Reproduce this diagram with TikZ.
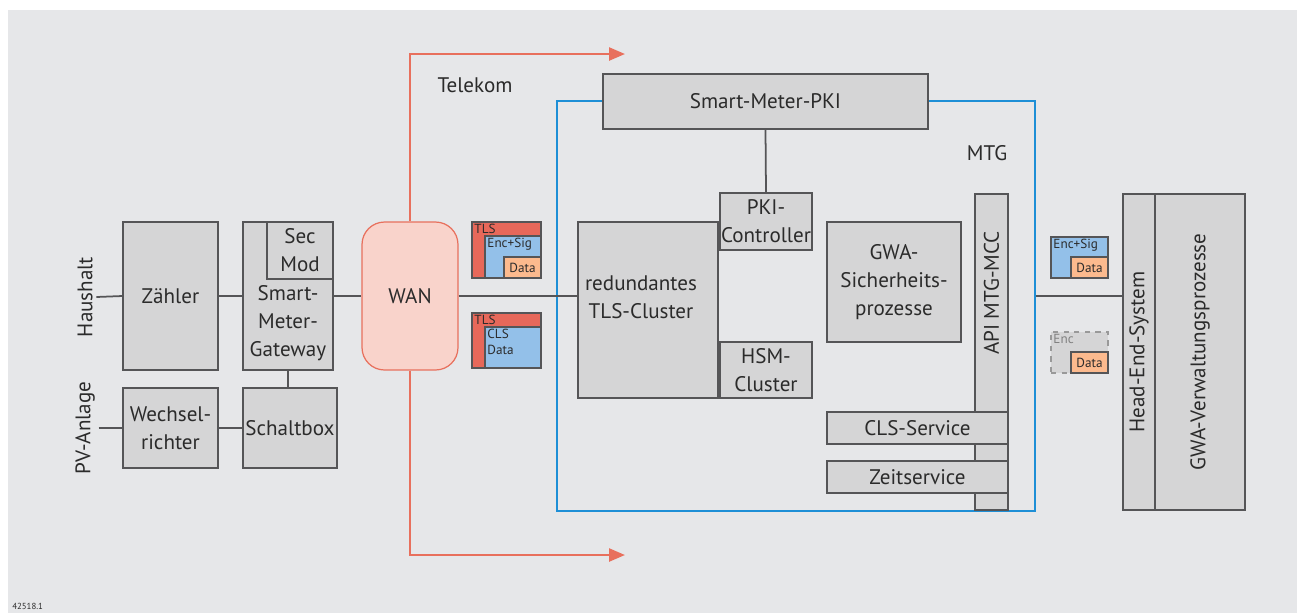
\documentclass[tikz,border=0pt]{standalone}
\usepackage{fontspec}
\setmainfont{PT Sans}
\usetikzlibrary{arrows.meta, positioning}

\definecolor{bggray}{HTML}{E6E7E9}
\definecolor{boxgray}{HTML}{D5D5D6}
\definecolor{linegray}{HTML}{555557}
\definecolor{textgray}{HTML}{2B2B2B}
\definecolor{mtgblue}{HTML}{1E8FD6}
\definecolor{telred}{HTML}{E8705D}
\definecolor{wanfill}{HTML}{F9D3CB}
\definecolor{pktred}{HTML}{E7685A}
\definecolor{pktblue}{HTML}{93C0E9}
\definecolor{pktorange}{HTML}{FCBA8E}

\begin{document}
\begin{tikzpicture}[
    x=0.02cm, y=-0.02cm,
    font=\fontsize{12}{16}\selectfont,
    text=textgray,
    box/.style={draw=linegray, fill=boxgray, line width=0.7pt, rectangle, align=center, inner sep=0pt},
    vbox/.style={box, rotate=90},
    pkt/.style={draw=linegray, line width=0.6pt, inner sep=0pt, font=\fontsize{7.5}{9}\selectfont},
    pktlbl/.style={anchor=north west, inner sep=1.5pt, align=left, font=\fontsize{7.5}{9}\selectfont},
    link/.style={draw=linegray, line width=1pt},
    telarrow/.style={draw=telred, line width=1.4pt, -{Triangle[length=0.32cm,width=0.26cm]}}
]

% Background
\useasboundingbox (0,0) rectangle (1301,613);
\fill[bggray] (8,10) rectangle (1297,613);

% Household side
\node[box, minimum width=1.9cm, minimum height=2.96cm] (zaehler) at (170.5,296) {Zähler};
\node[box, minimum width=1.8cm, minimum height=2.96cm] (smg) at (288,296) {};
\node[box, minimum width=1.32cm, minimum height=1.14cm] (secmod) at (300,250.5) {Sec\\Mod};
\node[align=center] (smgtext) at (288,323) {Smart-\\Meter-\\Gateway};
\node[box, minimum width=1.9cm, minimum height=1.6cm] (wr) at (170.5,428) {Wechsel-\\richter};
\node[box, minimum width=1.88cm, minimum height=1.6cm] (schalt) at (290,428) {Schaltbox};
\node[rotate=90, inner sep=2pt] (hh) at (85,297) {Haushalt};
\node[rotate=90, inner sep=2pt] (pv) at (85,428) {PV-Anlage};

% WAN
\node[box, draw=telred, fill=wanfill, rounded corners=0.45cm, minimum width=1.92cm, minimum height=2.96cm] (wan) at (410,296) {WAN};
\node (telekom) at (475,85) {Telekom};
\coordinate (telup) at (625,54);
\coordinate (teldown) at (625,555);

% Packets between WAN and MTG
\node[pkt, fill=pktred, minimum width=1.38cm, minimum height=1.12cm] (tls1) at (506.5,250) {};
\node[pktlbl] at (tls1.north west) {TLS};
\node[pkt, fill=pktblue, minimum width=1.12cm, minimum height=0.84cm] (enc1) at (513,257) {};
\node[pktlbl] at (enc1.north west) {Enc+Sig};
\node[pkt, fill=pktorange, minimum width=0.74cm, minimum height=0.42cm] (data1) at (522.5,267.5) {Data};

\node[pkt, fill=pktred, minimum width=1.38cm, minimum height=1.1cm] (tls2) at (506.5,340.5) {};
\node[pktlbl] at (tls2.north west) {TLS};
\node[pkt, fill=pktblue, minimum width=1.12cm, minimum height=0.82cm] (cls2) at (513,347.5) {};
\node[pktlbl] at (cls2.north west) {CLS\\Data};

% MTG
\node[draw=mtgblue, line width=1.6pt, minimum width=9.56cm, minimum height=8.2cm, inner sep=0pt] (mtg) at (796,306) {};
\node (mtglbl) at (987,153) {MTG};
\node[box, minimum width=6.5cm, minimum height=1.1cm] (pki) at (765.5,101.5) {Smart-Meter-PKI};
\node[box, minimum width=1.84cm, minimum height=1.14cm] (pkictl) at (766,221.5) {PKI-\\Controller};
\node[box, minimum width=1.84cm, minimum height=1.12cm] (hsm) at (766,370) {HSM-\\Cluster};
\node[box, minimum width=2.8cm, minimum height=3.52cm] (tlscl) at (648,310) {};
\node[align=center] (tlstext) at (641,297) {redundantes\\TLS-Cluster};
\node[box, minimum width=2.68cm, minimum height=2.4cm] (gwasec) at (894,282) {GWA-\\Sicherheits-\\prozesse};
\node[vbox, minimum width=6.32cm, minimum height=0.66cm] (api) at (991.5,352) {};
\node[rotate=90] (apitext) at (991.5,293) {API MTG-MCC};
\node[box, minimum width=3.62cm, minimum height=0.64cm] (cls) at (917.5,428) {CLS-Service};
\node[box, minimum width=3.62cm, minimum height=0.64cm] (zeit) at (917.5,477) {Zeitservice};

% Packets between MTG and Head-End
\node[pkt, fill=pktblue, minimum width=1.14cm, minimum height=0.82cm] (enc3) at (1079.5,257.5) {};
\node[pktlbl] at (enc3.north west) {Enc+Sig};
\node[pkt, fill=pktorange, minimum width=0.74cm, minimum height=0.42cm] (data3) at (1089.5,267.5) {Data};
\node[pkt, draw=gray!80, dashed, fill=boxgray, minimum width=1.14cm, minimum height=0.82cm] (enc4) at (1079.5,352.5) {};
\node[pktlbl, text=gray] at (enc4.north west) {Enc};
\node[pkt, fill=pktorange, minimum width=0.74cm, minimum height=0.42cm] (data4) at (1089.5,362.5) {Data};

% Back end
\node[vbox, minimum width=6.32cm, minimum height=0.64cm] (hes) at (1139,352) {Head-End-System};
\node[vbox, minimum width=6.32cm, minimum height=1.8cm] (gwav) at (1200,352) {GWA-Verwaltungsprozesse};

% Connections
\draw[link] (hh.south) -- (zaehler.west);
\draw[link] (pv.south) -- (wr.west);
\draw[link] (zaehler.east) -- (smg.west);
\draw[link] (wr.east) -- (schalt.west);
\draw[link] (smg.south) -- (smg.south |- schalt.north);
\draw[link] (smg.east) -- (wan.west);
\draw[link] (wan.east) -- (wan.east -| tlscl.west);
\draw[link] (pki.south) -- (pkictl.north);
\draw[link] (mtg.east |- wan.east) -- (hes.north |- wan.east);

% Telekom arrows
\draw[telarrow] (wan.north) |- (telup);
\draw[telarrow] (wan.south) |- (teldown);

% Figure number
\node[anchor=west, inner sep=0pt, font=\fontsize{5}{6}\selectfont] (fignr) at (12,606) {42518.1};

\end{tikzpicture}
\end{document}
